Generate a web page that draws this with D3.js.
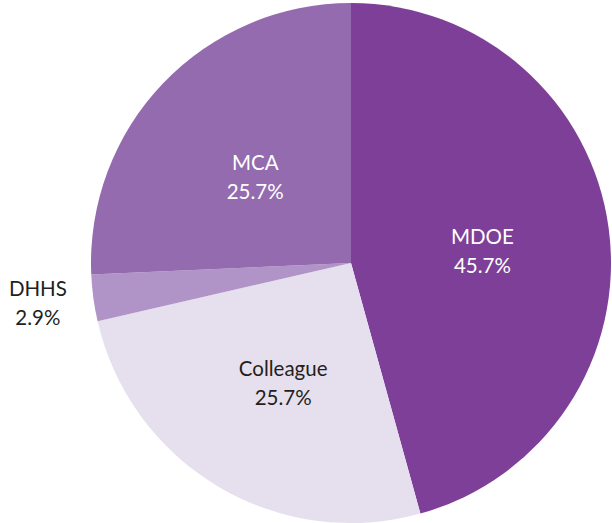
<!DOCTYPE html>
<html>
<head>
<meta charset="utf-8">
<script src="https://cdn.jsdelivr.net/npm/d3@7"></script>
<style>
  body { margin: 0; background: #fff; }
  text { font-family: Lato, "Open Sans", sans-serif; }
</style>
</head>
<body>
<svg id="chart"></svg>
<script>
const labels = ["MDOE", "Colleague", "DHHS", "MCA"];
const values = [45.7, 25.7, 2.9, 25.7];
const colors = ["#7d3f97", "#e6dfee", "#b194c7", "#946bae"];

const width = 612, height = 523;
const cx = 351, cy = 263, radius = 260;

const svg = d3.select("#chart")
    .attr("width", width)
    .attr("height", height);

const g = svg.append("g").attr("transform", `translate(${cx}, ${cy})`);

const data = labels.map((d, i) => ({ label: d, value: values[i], color: colors[i] }));

const pie = d3.pie().sort(null).value(d => d.value);
const arc = d3.arc().innerRadius(0).outerRadius(radius);
const labelArc = d3.arc().innerRadius(0).outerRadius(radius * 1.02);

const arcs = pie(data);

g.selectAll("path")
    .data(arcs)
    .join("path")
    .attr("d", arc)
    .attr("fill", d => d.data.color);

// small slices get their label outside the pie
const isSmall = d => d.data.value < 5;

const lbl = g.selectAll("text.lbl")
    .data(arcs)
    .join("text")
    .attr("class", "lbl")
    .attr("text-anchor", "middle")
    .attr("font-size", 20.5)
    .attr("fill", d => (isSmall(d) || d.data.label === "Colleague") ? "#231f20" : "#ffffff")
    .attr("transform", d => {
        if (isSmall(d)) {
            const a = (d.startAngle + d.endAngle) / 2;
            const r = radius + 56;
            return `translate(${Math.sin(a) * r}, ${-Math.cos(a) * r - 2})`;
        }
        const [x, y] = labelArc.centroid(d);
        return `translate(${x}, ${y + 6})`;
    });

lbl.append("tspan")
    .attr("x", 0)
    .attr("dy", "-0.35em")
    .text(d => d.data.label);

lbl.append("tspan")
    .attr("x", 0)
    .attr("dy", "1.42em")
    .text(d => d.data.value.toFixed(1) + "%");
</script>
</body>
</html>
